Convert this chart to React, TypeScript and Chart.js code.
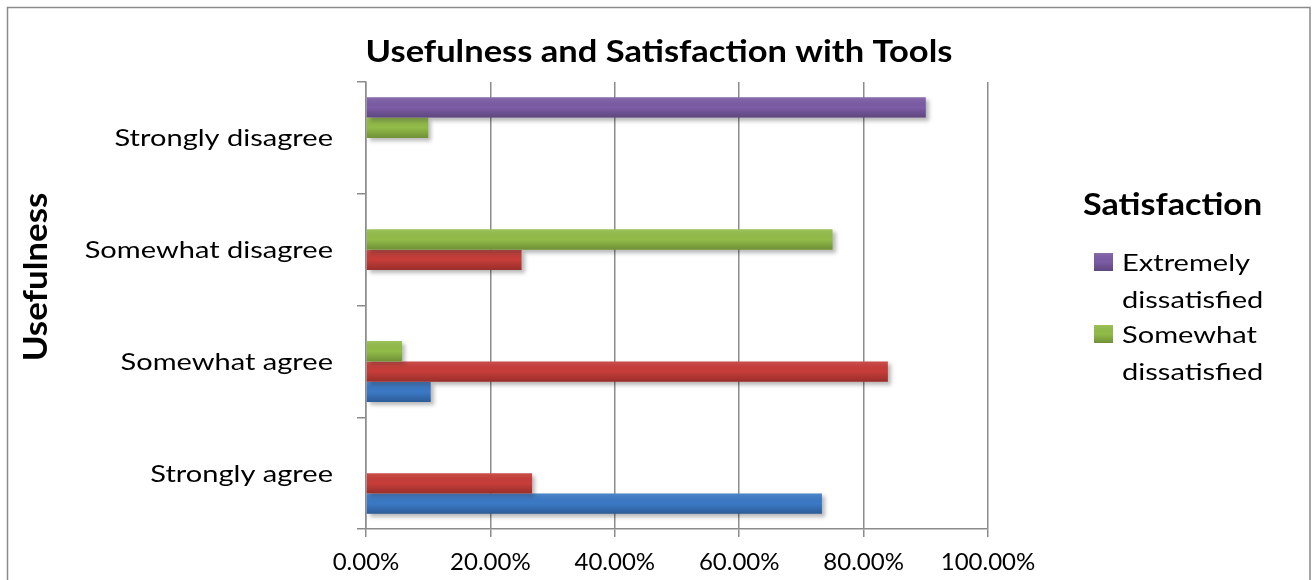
import React, { useEffect, useRef } from "react";
import { Chart, registerables } from "chart.js";

Chart.register(...registerables);

// Usefulness categories, listed top to bottom
const categories = ["Strongly disagree", "Somewhat disagree", "Somewhat agree", "Strongly agree"];

// Share of respondents (%) per satisfaction level, one value per category
const extremelyDissatisfied = [90.0, 0, 0, 0];
const somewhatDissatisfied = [10.0, 75.0, 5.8, 0];
const somewhatSatisfied = [0, 25.0, 83.9, 26.7];
const extremelySatisfied = [0, 0, 10.4, 73.3];

const seriesNames = ["Extremely dissatisfied", "Somewhat dissatisfied", "Somewhat satisfied", "Extremely satisfied"];
const seriesColors = ["#7B5CA5", "#92BC48", "#C73D39", "#3B79C6"];

// Only the first entries fit in the legend box
const legendVisibleCount = 2;

const xTicks = [0, 20, 40, 60, 80, 100];

const chartTitle = "Usefulness and Satisfaction with Tools";
const yAxisTitle = "Usefulness";
const legendTitle = "Satisfaction";

const FONT = "Lato";
const GRID = "#8c8c8c";

// draw text with a horizontal stretch factor
function drawText(ctx: CanvasRenderingContext2D, text: string, x: number, y: number, font: string, align: CanvasTextAlign, sx: number) {
  ctx.save();
  ctx.translate(x, y);
  ctx.scale(sx, 1);
  ctx.font = font;
  ctx.textAlign = align;
  ctx.textBaseline = "alphabetic";
  ctx.fillText(text, 0, 0);
  ctx.restore();
}

function shade(ctx: CanvasRenderingContext2D, x: number, top: number, w: number, h: number) {
  const g = ctx.createLinearGradient(0, top, 0, top + h);
  g.addColorStop(0, "rgba(255,255,255,0.10)");
  g.addColorStop(0.5, "rgba(0,0,0,0)");
  g.addColorStop(1, "rgba(0,0,0,0.24)");
  ctx.fillStyle = g;
  ctx.fillRect(x, top, w, h);
}

const decorPlugin = {
  id: "decor",
  beforeDatasetsDraw(chart: any) {
    const ctx = chart.ctx;
    ctx.save();
    ctx.shadowColor = "rgba(0,0,0,0.28)";
    ctx.shadowBlur = 4;
    ctx.shadowOffsetX = 3;
    ctx.shadowOffsetY = 3;
  },
  afterDatasetsDraw(chart: any) {
    const ctx = chart.ctx;
    ctx.restore();
    // vertical shading on every bar
    chart.data.datasets.forEach((_: any, di: number) => {
      const meta = chart.getDatasetMeta(di);
      meta.data.forEach((el: any) => {
        const p = el.getProps(["x", "y", "base", "height"], true);
        const w = p.x - p.base;
        if (!(w > 0)) return;
        shade(ctx, p.base, p.y - p.height / 2, w, p.height);
      });
    });
  },
  afterDraw(chart: any) {
    const ctx = chart.ctx;
    ctx.save();
    // outer frame
    ctx.strokeStyle = "#8a8a8a";
    ctx.lineWidth = 1.5;
    ctx.strokeRect(7.5, 7.5, 1302.5, 640);

    ctx.fillStyle = "#000";
    // chart title
    drawText(ctx, chartTitle, 659, 62, `bold 30px ${FONT}`, "center", 1.15);

    // category labels beside the vertical axis
    const ys = chart.scales.y;
    ys.ticks.forEach((t: any, i: number) => {
      const y = ys.getPixelForTick(i);
      drawText(ctx, ys.getLabelForValue(t.value), 333, y + 8.5, `24px ${FONT}`, "right", 1.21);
    });

    // vertical axis title
    ctx.save();
    ctx.translate(47, 277);
    ctx.rotate(-Math.PI / 2);
    drawText(ctx, yAxisTitle, 0, 0, `bold 32px ${FONT}`, "center", 1.09);
    ctx.restore();

    // legend
    drawText(ctx, legendTitle, 1083, 215, `bold 31px ${FONT}`, "left", 1.1);
    const entryTops = [253, 325];
    const lineGap = 36.5;
    for (let i = 0; i < legendVisibleCount; i++) {
      const top = entryTops[i];
      ctx.fillStyle = seriesColors[i];
      ctx.fillRect(1094, top, 19, 18);
      shade(ctx, 1094, top, 19, 18);
      ctx.fillStyle = "#000";
      const name = seriesNames[i];
      const sp = name.indexOf(" ");
      const lines = [name.slice(0, sp), name.slice(sp + 1)];
      lines.forEach((ln, k) => drawText(ctx, ln, 1122, top + 18 + k * lineGap, `24px ${FONT}`, "left", 1.21));
    }
    ctx.restore();
  },
};

export default function App() {
  const ref = useRef<HTMLCanvasElement>(null);

  useEffect(() => {
    if (!ref.current) return;
    const series = [extremelyDissatisfied, somewhatDissatisfied, somewhatSatisfied, extremelySatisfied];
    const chart = new Chart(ref.current, {
      type: "bar",
      data: {
        labels: categories,
        datasets: series.map((values, i) => ({
          label: seriesNames[i],
          data: values,
          backgroundColor: seriesColors[i],
          borderWidth: 0,
          barPercentage: 1,
          categoryPercentage: 4 / 5.5,
        })),
      },
      options: {
        indexAxis: "y",
        animation: false,
        responsive: false,
        events: [],
        layout: { padding: { top: 82, right: 324, left: 0, bottom: 0 } },
        plugins: {
          legend: { display: false },
          title: { display: false },
          tooltip: { enabled: false },
        },
        scales: {
          x: {
            min: 0,
            max: 100,
            afterBuildTicks: (s: any) => {
              s.ticks = xTicks.map((v) => ({ value: v }));
            },
            afterFit: (s: any) => {
              s.height = 51;
            },
            ticks: {
              callback: (v: any) => Number(v).toFixed(2) + "%",
              color: "#000",
              font: { family: FONT, size: 24 },
              padding: 11,
              maxRotation: 0,
            },
            grid: { color: GRID, lineWidth: 1.5, tickLength: 8, drawTicks: true },
            border: { display: true, color: GRID, width: 1.5 },
          },
          y: {
            afterFit: (s: any) => {
              s.width = 366;
            },
            ticks: { display: false },
            grid: { display: true, drawOnChartArea: false, drawTicks: true, tickLength: 9, color: GRID, lineWidth: 1.5 },
            border: { display: true, color: GRID, width: 1.5 },
          },
        },
      },
      plugins: [decorPlugin],
    });
    return () => chart.destroy();
  }, []);

  return (
    <div style={{ position: "fixed", left: 0, top: 0, width: 1312, height: 580, background: "#fff" }}>
      <canvas ref={ref} width={1312} height={580} style={{ display: "block" }} />
    </div>
  );
}
